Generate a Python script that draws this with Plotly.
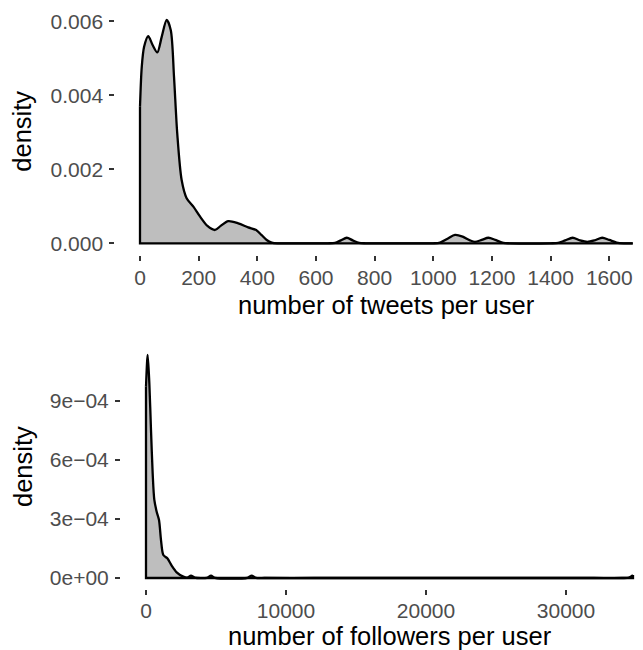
import plotly.graph_objects as go

# ---- data ----
tweets_x = [0, 6, 14, 28, 43, 59, 74, 91, 105, 116, 127, 142, 159, 182, 205, 230, 256, 275,
            301, 335, 369, 396, 415, 432, 449, 470, 550, 640, 665, 685, 705, 725, 747, 770,
            900, 1000, 1023, 1050, 1074, 1100, 1125, 1142, 1165, 1188, 1212, 1239, 1260,
            1400, 1426, 1450, 1475, 1500, 1525, 1550, 1576, 1600, 1625, 1650, 1680]
tweets_density = [0.00369, 0.00477, 0.00531, 0.0056, 0.00536, 0.00516, 0.00558, 0.00604,
                  0.00576, 0.0045, 0.00297, 0.00171, 0.00122, 0.00099, 0.00072, 0.00047,
                  0.00036, 0.00047, 0.0006, 0.00054, 0.00043, 0.00036, 0.00022, 0.00009,
                  0.00002, 0, 0, 0, 0.00001, 0.00008, 0.00015, 0.00008, 0.00001, 0,
                  0, 0, 0.00002, 0.00013, 0.000225, 0.00018, 0.00008, 0.00004, 0.00009,
                  0.00015, 0.00009, 0.00001, 0,
                  0, 0.00001, 0.00008, 0.00015, 0.00008, 0.00004, 0.00008, 0.00015,
                  0.00009, 0.00002, 0, 0]

followers_x = [0, 120, 238, 357, 476, 595, 762, 929, 1071, 1238, 1524, 1833, 2190, 2667,
               2950, 3214, 3480, 4350, 4643, 4930, 7250, 7548, 7850, 8500, 12000, 16000,
               20000, 24000, 28000, 32000, 34000, 34500, 34786]
followers_density = [0.000973, 0.001134, 0.00099, 0.000752, 0.000532, 0.000397, 0.000337,
                     0.000295, 0.000193, 0.000117, 0.0001, 0.000063, 0.000029, 0.0000068,
                     0.000002, 0.000012, 0.000002, 0.000001, 0.000012, 0.000001,
                     0.000001, 0.000012, 0.000001, 0, 0, 0,
                     0, 0, 0, 0, 0, 0.000002, 0.000015]

tweets_xticks = [0, 200, 400, 600, 800, 1000, 1200, 1400, 1600]
tweets_yticks = [0, 0.002, 0.004, 0.006]
tweets_yticklabels = ["0.000", "0.002", "0.004", "0.006"]
followers_xticks = [0, 10000, 20000, 30000]
followers_yticks = [0, 0.0003, 0.0006, 0.0009]
followers_yticklabels = ["0e+00", "3e\u221204", "6e\u221204", "9e\u221204"]

x_title_top = "number of tweets per user"
x_title_bottom = "number of followers per user"
y_title = "density"

W, H = 643, 650
FONT = "Liberation Sans, Arial, Helvetica, sans-serif"
FILL = "#BEBEBE"
LW = 2.3

fig = go.Figure()

def add_density(x, y, xa, ya):
    fig.add_trace(go.Scatter(
        x=x, y=y, mode="lines", xaxis=xa, yaxis=ya,
        line=dict(color="black", width=LW, shape="spline", smoothing=0.8),
        fill="tozeroy", fillcolor=FILL, hoverinfo="skip", showlegend=False))
    fig.add_trace(go.Scatter(
        x=[x[0], x[0], x[-1], x[-1]], y=[y[0], 0, 0, y[-1]],
        mode="lines", xaxis=xa, yaxis=ya,
        line=dict(color="black", width=LW), hoverinfo="skip", showlegend=False))

add_density(tweets_x, tweets_density, "x", "y")
add_density(followers_x, followers_density, "x2", "y2")

common = dict(showgrid=False, zeroline=False, showline=False, ticks="outside",
              ticklen=5, tickwidth=2, tickcolor="#333333",
              tickfont=dict(family=FONT, size=21, color="#4D4D4D"))

# panel geometry (px)
t_left, t_top, t_bot = 115.3, 7.9, 254.5
b_left, b_top, b_bot = 121.0, 343.9, 589.15

fig.update_layout(
    width=W, height=H, margin=dict(l=0, r=0, t=0, b=0),
    paper_bgcolor="white", plot_bgcolor="white",
    font=dict(family=FONT),
    xaxis=dict(domain=[t_left / W, 1], range=[-84.2, 1715], tickvals=tweets_xticks,
               anchor="y", ticklabelstandoff=-1, **common),
    yaxis=dict(domain=[1 - t_bot / H, 1 - t_top / H], range=[-0.000303, 0.006363],
               tickvals=tweets_yticks, ticktext=tweets_yticklabels, anchor="x",
               ticklabelstandoff=2, **common),
    xaxis2=dict(domain=[b_left / W, 1], range=[-1786, 35500], tickvals=followers_xticks,
                tickformat="d", anchor="y2", ticklabelstandoff=-2, **common),
    yaxis2=dict(domain=[1 - b_bot / H, 1 - b_top / H], range=[-0.0000567, 0.00119],
                tickvals=followers_yticks, ticktext=followers_yticklabels, anchor="x2",
                ticklabelstandoff=2, **common),
)

title_font = dict(family=FONT, size=25.5, color="black")
fig.add_annotation(text=x_title_top, xref="paper", yref="paper", x=386.5 / W, y=1 - 305 / H,
                   xanchor="center", yanchor="middle", showarrow=False, font=title_font,
                   borderpad=0)
fig.add_annotation(text=x_title_bottom, xref="paper", yref="paper", x=390 / W, y=1 - 636 / H,
                   xanchor="center", yanchor="middle", showarrow=False, font=title_font,
                   borderpad=0)
fig.add_annotation(text=y_title, xref="paper", yref="paper", x=22.5 / W, y=1 - 131.2 / H,
                   xanchor="center", yanchor="middle", textangle=-90, showarrow=False,
                   font=title_font, borderpad=0)
fig.add_annotation(text=y_title, xref="paper", yref="paper", x=22.5 / W, y=1 - 466.5 / H,
                   xanchor="center", yanchor="middle", textangle=-90, showarrow=False,
                   font=title_font, borderpad=0)

fig.write_html("out.html", config={"displayModeBar": False},
               post_script="document.body.style.margin='0';document.body.style.overflow='hidden';")
